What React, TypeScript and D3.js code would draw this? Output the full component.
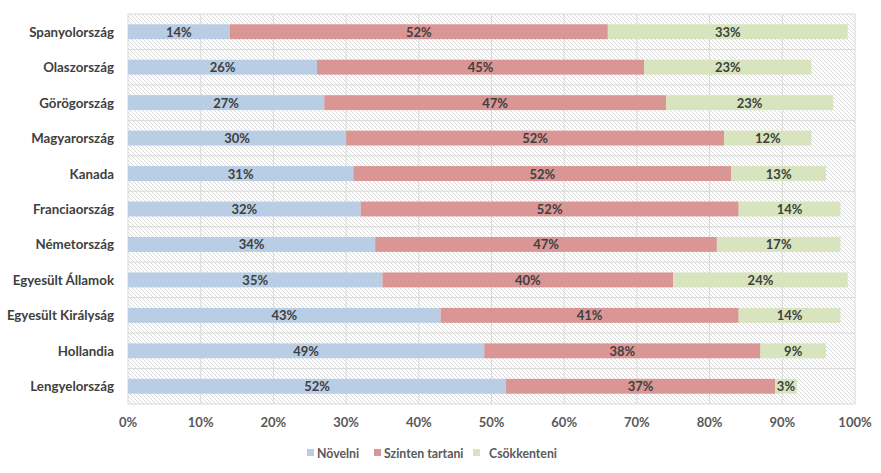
import React from "react";
import * as d3 from "d3";

const categories = [
  "Spanyolország",
  "Olaszország",
  "Görögország",
  "Magyarország",
  "Kanada",
  "Franciaország",
  "Németország",
  "Egyesült Államok",
  "Egyesült Királyság",
  "Hollandia",
  "Lengyelország",
];
const seriesNames = ["Növelni", "Szinten tartani", "Csökkenteni"];
const novelni = [14, 26, 27, 30, 31, 32, 34, 35, 43, 49, 52];
const szinten = [52, 45, 47, 52, 52, 52, 47, 40, 41, 38, 37];
const csokkenteni = [33, 23, 23, 12, 13, 14, 17, 24, 14, 9, 3];
const xTicks = [0, 10, 20, 30, 40, 50, 60, 70, 80, 90, 100];
const colors = ["#b9cde5", "#da9694", "#d7e4bd"];

const W = 881;
const H = 473;
const M = { left: 128, right: 26, top: 14, bottom: 69 };
const FONT = "Lato, 'Open Sans', sans-serif";

export default function App() {
  const x = d3.scaleLinear().domain([0, 100]).range([M.left, W - M.right]);
  const y = d3
    .scaleBand<string>()
    .domain(categories)
    .range([M.top, H - M.bottom])
    .paddingInner(0)
    .paddingOuter(0);
  const bw = y.bandwidth();
  const barH = bw * 0.42;

  const rows = categories.map((c, i) => ({
    cat: c,
    vals: [novelni[i], szinten[i], csokkenteni[i]],
  }));
  const stack = d3.stack<any>().keys(["0", "1", "2"]).value((d, k) => d.vals[+k]);
  const stacked = stack(rows);

  const x0 = x(0);
  const x1 = x(100);

  return (
    <svg width={W} height={H} style={{ display: "block", position: "absolute", left: 0, top: 0 }} fontFamily={FONT}>
      <defs>
        <pattern id="hatch" patternUnits="userSpaceOnUse" width="4" height="4">
          <path d="M-1,-1 L5,5 M-1,3 L1,5 M3,-1 L5,1" stroke="#cdcdcd" strokeWidth="0.75" />
        </pattern>
      </defs>
      <rect x={0} y={0} width={W} height={H} fill="#ffffff" />
      <rect x={x0} y={M.top} width={x1 - x0} height={H - M.bottom - M.top} fill="url(#hatch)" />
      {xTicks.map((t) => (
        <line key={"v" + t} x1={x(t)} x2={x(t)} y1={M.top} y2={H - M.bottom} stroke="#d9d9d9" strokeWidth={1} />
      ))}
      {d3.range(categories.length + 1).map((i) => {
        const yy = M.top + i * bw;
        return <line key={"h" + i} x1={x0} x2={x1} y1={yy} y2={yy} stroke="#d9d9d9" strokeWidth={1} />;
      })}
      {stacked.map((s, si) =>
        s.map((d, i) => {
          const cat = categories[i];
          const yc = (y(cat) as number) + bw / 2;
          const xa = x(d[0]);
          const xb = x(d[1]);
          return (
            <g key={si + "-" + i}>
              <rect x={xa} y={yc - barH / 2} width={xb - xa} height={barH} fill={colors[si]} />
              <text
                x={(xa + xb) / 2}
                y={yc + 5}
                textAnchor="middle"
                fontSize={13}
                fontWeight="bold"
                fill="#404040"
              >
                {d.data.vals[si]}%
              </text>
            </g>
          );
        })
      )}
      {categories.map((c) => (
        <text
          key={c}
          x={114}
          y={(y(c) as number) + bw / 2 + 5}
          textAnchor="end"
          fontSize={13.3}
          fontWeight="bold"
          fill="#404040"
        >
          {c}
        </text>
      ))}
      {xTicks.map((t) => (
        <text key={"t" + t} x={x(t)} y={427} textAnchor="middle" fontSize={13} fontWeight="bold" fill="#595959">
          {t}%
        </text>
      ))}
      {[
        { mx: 307, tx: 317 },
        { mx: 374, tx: 384 },
        { mx: 473, tx: 489 },
      ].map((l, i) => (
        <g key={"l" + i}>
          <rect x={l.mx} y={449} width={7} height={7} fill={colors[i]} />
          <text x={l.tx} y={458} fontSize={12.3} fontWeight="bold" fill="#595959">
            {seriesNames[i]}
          </text>
        </g>
      ))}
    </svg>
  );
}
